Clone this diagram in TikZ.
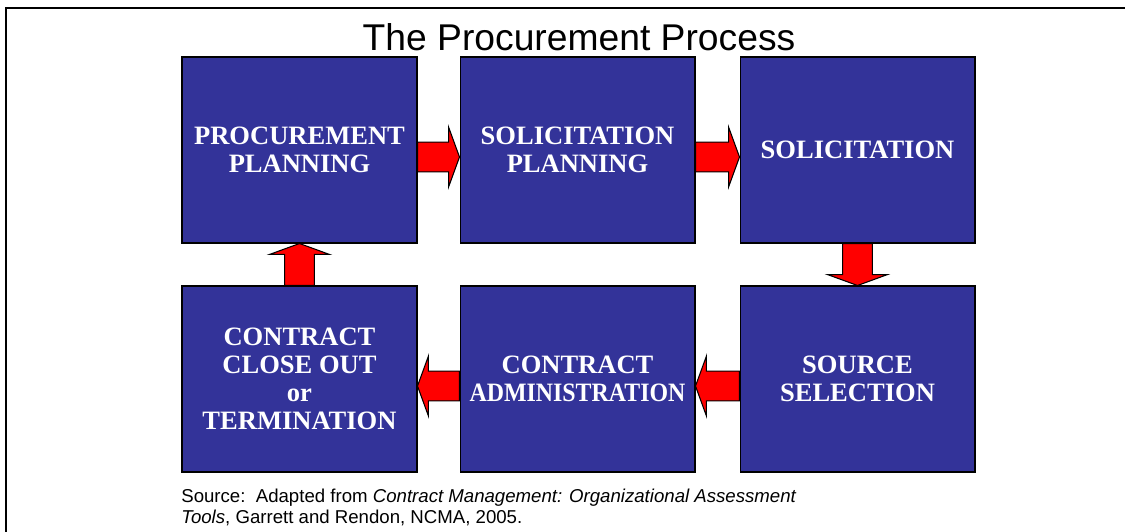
\documentclass[tikz,border=0pt]{standalone}
\usepackage{fontspec}
\setmainfont{Liberation Sans}
\newfontfamily\stagefont{Liberation Serif}
\usetikzlibrary{calc}
\definecolor{stageblue}{HTML}{333399}
\definecolor{arrowred}{HTML}{FF0000}
\tikzset{stage/.style={draw=black, line width=0.6pt, fill=stageblue, text=white,
    minimum width=4.7cm, minimum height=3.72cm, inner sep=0pt, align=center,
    font=\stagefont\bfseries\fontsize{15.1}{16}\selectfont}}
\tikzset{bigarrow/.style={draw=black, fill=arrowred, line width=0.6pt,
    to path={let \p1=(\tikztostart), \p2=(\tikztotarget),
      \n1={sign(round(\x2-\x1))}, \n2={sign(round(\y2-\y1))} in
      ({\x1-\n2*8.5pt},{\y1+\n1*8.5pt})
      -- ({\x2-\n1*6.2pt-\n2*8.5pt},{\y2-\n2*6.2pt+\n1*8.5pt})
      -- ({\x2-\n1*6.2pt-\n2*17pt},{\y2-\n2*6.2pt+\n1*17pt})
      -- (\p2)
      -- ({\x2-\n1*6.2pt+\n2*17pt},{\y2-\n2*6.2pt-\n1*17pt})
      -- ({\x2-\n1*6.2pt+\n2*8.5pt},{\y2-\n2*6.2pt-\n1*8.5pt})
      -- ({\x1+\n2*8.5pt},{\y1-\n1*8.5pt}) -- cycle}}}

\begin{document}
\begin{tikzpicture}[x=0.02cm, y=-0.02cm]
      \useasboundingbox (0,0) rectangle (1125,531);
      \draw[line width=1.2pt] (6,545) -- (6,8) -- (1140,8);

      \node[anchor=base, font=\fontsize{21.2}{25}\selectfont] (title) at (579,50)
      {The Procurement Process};

      \node[stage] (pp) at (299.5,150) {PROCUREMENT\\PLANNING};
      \node[stage] (sp) at (577.5,150) {SOLICITATION\\PLANNING};
      \node[stage] (sol) at (857.5,150) {SOLICITATION};
      \node[stage] (cc) at (299.5,379) {CONTRACT\\CLOSE OUT\\or\\TERMINATION};
      \node[stage] (ca) at (577.5,379) {CONTRACT\\\scalebox{0.9}[1]{ADMINISTRATION}};
      \node[stage] (ss) at (857.5,379) {SOURCE\\SELECTION};

      \draw[bigarrow] ([yshift=-4pt]pp.east) to ([yshift=-4pt]sp.west);
      \draw[bigarrow] ([yshift=-4pt]sp.east) to ([yshift=-4pt]sol.west);
      \draw[bigarrow] (sol.south) to (ss.north);
      \draw[bigarrow] ([yshift=-4pt]ss.west) to ([yshift=-4pt]ca.east);
      \draw[bigarrow] ([yshift=-4pt]ca.west) to ([yshift=-4pt]cc.east);
      \draw[bigarrow] (cc.north) to (pp.south);

      \node[anchor=base west, align=left, inner xsep=0pt,
      font=\fontsize{10.6}{11.4}\selectfont] (source) at (181,523)
      {Source:\ \ Adapted from \textit{Contract Management: Organizational Assessment}\\
       \textit{Tools}, Garrett and Rendon, NCMA, 2005.};
    \end{tikzpicture}
\end{document}
